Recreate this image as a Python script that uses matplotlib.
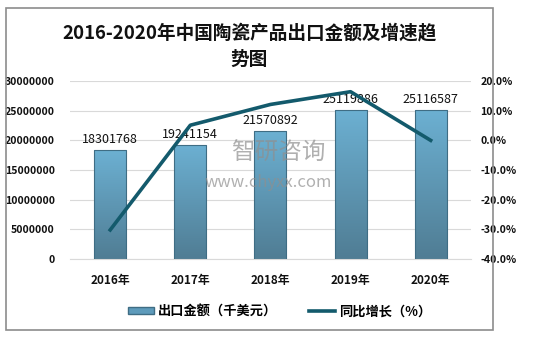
import numpy as np
import matplotlib.pyplot as plt
from matplotlib.patches import Rectangle, Patch
from matplotlib.lines import Line2D
from matplotlib.colors import LinearSegmentedColormap
from matplotlib.ticker import FuncFormatter

plt.rcParams['font.family'] = ['Noto Sans CJK SC', 'DejaVu Sans']

years = ['2016年', '2017年', '2018年', '2019年', '2020年']
export_value = [18301768, 19241154, 21570892, 25119886, 25116587]
growth_rate = [-30.2, 5.1, 12.1, 16.4, -0.01]

fig = plt.figure(figsize=(5.48, 3.39), dpi=100)
fig.patches.append(Rectangle((0.011, 0.027), 0.889, 0.949, transform=fig.transFigure,
                             fill=False, edgecolor='#8c8c8c', linewidth=1.2))

ax = fig.add_axes([0.128, 0.236, 0.731, 0.525])
x = np.arange(len(years))
bars = ax.bar(x, export_value, width=0.4, color='none', edgecolor='#3f6d84', linewidth=0.8, zorder=3)

# 柱子渐变
grad = np.linspace(0, 1, 100).reshape(-1, 1)
cmap = LinearSegmentedColormap.from_list('g', ['#507d94', '#6cb0d2'])
for b in bars:
    x0, y0 = b.get_x(), b.get_y()
    w, h = b.get_width(), b.get_height()
    im = ax.imshow(grad, extent=[x0, x0 + w, y0, y0 + h], origin='lower', aspect='auto',
                   cmap=cmap, zorder=2)
    im.set_clip_path(b)

for xi, v in zip(x, export_value):
    ax.text(xi, v + 700000, str(v), ha='center', va='bottom', fontsize=9, color='#111111', zorder=6)

ax.set_xlim(-0.5, 4.5)
ax.set_ylim(0, 30000000)
ax.set_yticks(np.arange(0, 30000001, 5000000))
ax.yaxis.set_major_formatter(FuncFormatter(lambda v, p: '%d' % v))
ax.set_xticks(x)
ax.set_xticklabels(years, fontweight='bold', fontsize=8.5)
ax.tick_params(axis='y', length=0, labelsize=7.6, colors='#111111', pad=11)
ax.tick_params(axis='x', length=0, colors='#111111', pad=11)
for lab in ax.get_yticklabels():
    lab.set_fontweight('bold')
ax.grid(axis='y', color='#d9d9d9', linewidth=0.8, zorder=0)
ax.set_axisbelow(True)
for s in ['top', 'right', 'left']:
    ax.spines[s].set_visible(False)
ax.spines['bottom'].set_color('#d9d9d9')

ax2 = ax.twinx()
ax2.plot(x, growth_rate, color='#135a6c', linewidth=2.6, zorder=5)
ax2.set_ylim(-40, 20)
ax2.set_yticks(np.arange(-40, 21, 10))
ax2.yaxis.set_major_formatter(FuncFormatter(lambda v, p: '%.1f%%' % v))
ax2.tick_params(axis='y', length=0, labelsize=7.6, colors='#111111', pad=7)
for lab in ax2.get_yticklabels():
    lab.set_fontweight('bold')
for s in ['top', 'right', 'left', 'bottom']:
    ax2.spines[s].set_visible(False)

# 水印
fig.text(0.422, 0.548, '智研咨询', fontsize=17, color='#8f8f8f', alpha=0.7, va='center')
fig.text(0.374, 0.463, 'www.chyxx.com', fontsize=12, color='#8f8f8f', alpha=0.7, va='center')

fig.text(0.455, 0.903, '2016-2020年中国陶瓷产品出口金额及增速趋', ha='center', va='center',
         fontsize=13.4, fontweight='bold', color='#111111')
fig.text(0.455, 0.826, '势图', ha='center', va='center', fontsize=13.4, fontweight='bold', color='#111111')

handles = [Patch(facecolor='#5e9bbb', edgecolor='#3f6d84', label='出口金额（千美元）'),
           Line2D([0], [0], color='#135a6c', linewidth=2.6, label='同比增长（%）')]
fig.legend(handles=handles, loc='center', bbox_to_anchor=(0.51, 0.082), ncol=2, frameon=False,
           prop={'size': 9.5, 'weight': 'bold'}, handlelength=2.0, handleheight=0.5,
           handletextpad=0.3, columnspacing=2.4)

fig.savefig('out.png', dpi=100)
